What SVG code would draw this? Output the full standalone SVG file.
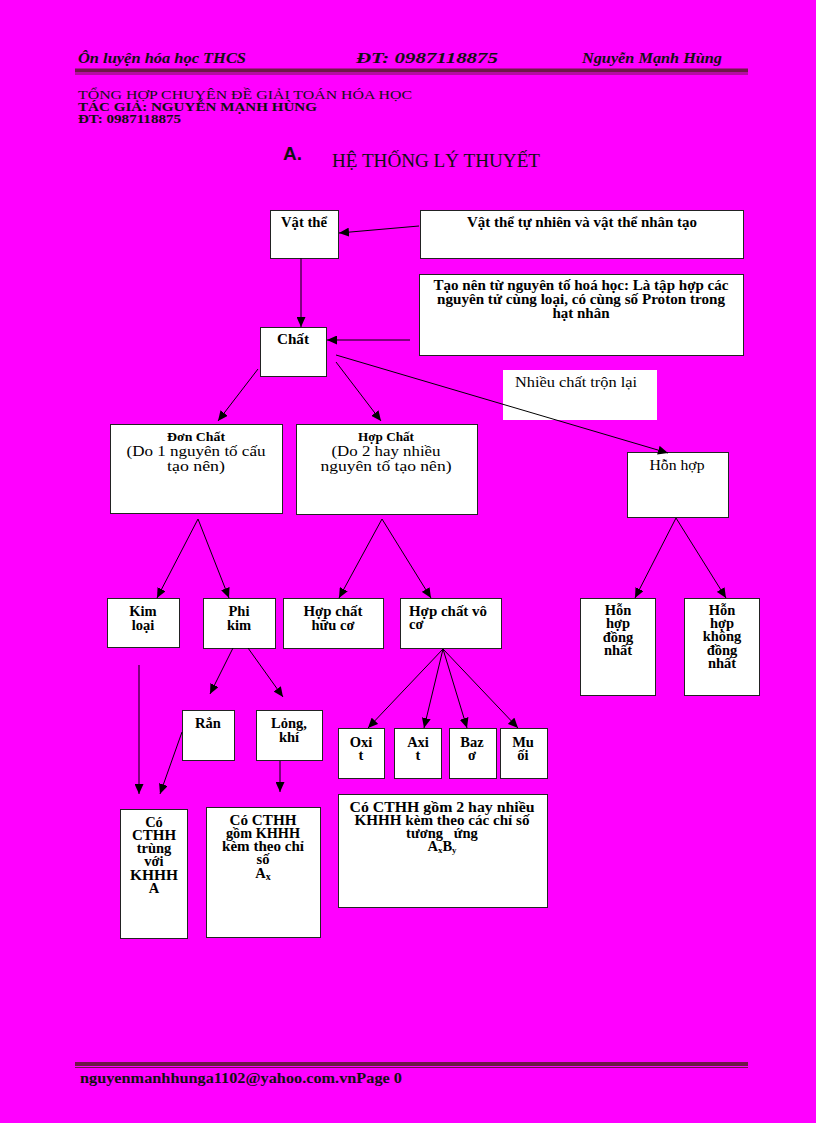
<svg xmlns="http://www.w3.org/2000/svg" width="816" height="1123" viewBox="0 0 816 1123">
<defs>
<marker id="ah" markerUnits="userSpaceOnUse" markerWidth="11" markerHeight="9" refX="10" refY="4.5" orient="auto">
<path d="M0,0 L10,4.5 L0,9 z" fill="#000"/>
</marker>
<style>
.box{fill:#fff;stroke:#222;stroke-width:1}
.nb{fill:#fff;stroke:none}
.t{font-family:"Liberation Serif","Times New Roman",serif;font-weight:bold;font-size:14.5px;fill:#000;text-anchor:middle}
.r{font-family:"Liberation Serif","Times New Roman",serif;font-weight:normal;font-size:14px;fill:#000;text-anchor:middle}
.s{font-size:14px}
.l{text-anchor:start}
.hdr{font-family:"Liberation Serif","Times New Roman",serif;font-style:italic;font-weight:bold;font-size:15px;fill:#111}
.top{font-family:"Liberation Serif","Times New Roman",serif;font-size:12.5px;fill:#111}
.rule{fill:#6e1848}
.conn line{stroke:#000;stroke-width:1;marker-end:url(#ah)}
</style>
</defs>
<rect x="0" y="0" width="816" height="1123" fill="#ff00ff"/>

<g id="header">
<text class="hdr" x="78" y="63" textLength="168" lengthAdjust="spacingAndGlyphs">Ôn luyện hóa học THCS</text>
<text class="hdr" x="356" y="63" textLength="142" lengthAdjust="spacingAndGlyphs">ĐT: 0987118875</text>
<text class="hdr" x="582" y="63" textLength="140" lengthAdjust="spacingAndGlyphs">Nguyễn Mạnh Hùng</text>
<rect class="rule" x="75" y="68.5" width="673" height="4"/>
<rect class="rule" x="75" y="73.5" width="673" height="1"/>
<text class="top" x="78" y="99" textLength="334" lengthAdjust="spacingAndGlyphs">TỔNG HỢP CHUYÊN ĐỀ GIẢI TOÁN HÓA HỌC</text>
<text class="top" x="78" y="111" textLength="239" lengthAdjust="spacingAndGlyphs" style="font-weight:bold">TÁC GIẢ: NGUYỄN MẠNH HÙNG</text>
<text class="top" x="78" y="123" textLength="103" lengthAdjust="spacingAndGlyphs" style="font-weight:bold">ĐT: 0987118875</text>
<text x="283" y="160" font-family="Liberation Sans, Arial, sans-serif" font-weight="bold" font-size="19" fill="#111">A.</text>
<text class="top" x="332" y="167" style="font-size:18px" textLength="208" lengthAdjust="spacingAndGlyphs">HỆ THỐNG LÝ THUYẾT</text>
</g>

<g id="n-vatthe"><rect class="box" x="270.5" y="210.5" width="68" height="48"/><text class="t" x="304" y="227" textLength="46" lengthAdjust="spacingAndGlyphs">Vật thể</text></g>
<g id="n-tunhien"><rect class="box" x="420.5" y="210.5" width="323" height="48"/><text class="t s" x="582" y="227" textLength="230" lengthAdjust="spacingAndGlyphs">Vật thể tự nhiên và vật thể nhân tạo</text></g>
<g id="n-taonen"><rect class="box" x="419.5" y="274.5" width="324" height="81"/>
<text class="t s" x="581" y="290" textLength="295" lengthAdjust="spacingAndGlyphs">Tạo nên từ nguyên tố hoá học: Là tập hợp các</text>
<text class="t s" x="581" y="304" textLength="288" lengthAdjust="spacingAndGlyphs">nguyên tử cùng loại, có cùng số Proton trong</text>
<text class="t s" x="581" y="318" textLength="57" lengthAdjust="spacingAndGlyphs">hạt nhân</text></g>
<g id="n-chat"><rect class="box" x="260.5" y="327.5" width="66" height="49"/><text class="t" x="293" y="344" textLength="32" lengthAdjust="spacingAndGlyphs">Chất</text></g>
<g id="n-nhieuchat"><rect class="nb" x="503" y="370" width="154" height="50"/><text class="r l" x="515" y="387" textLength="122" lengthAdjust="spacingAndGlyphs">Nhiều chất trộn lại</text></g>
<g id="n-donchat"><rect class="box" x="110.5" y="424.5" width="172" height="89"/>
<text class="t" x="196" y="441" style="font-size:12px" textLength="58" lengthAdjust="spacingAndGlyphs">Đơn Chất</text>
<text class="r" x="196" y="456" style="font-size:15px" textLength="139" lengthAdjust="spacingAndGlyphs">(Do 1 nguyên tố cấu</text>
<text class="r" x="196" y="471" style="font-size:15px" textLength="58" lengthAdjust="spacingAndGlyphs">tạo nên)</text></g>
<g id="n-hopchat"><rect class="box" x="296.5" y="424.5" width="181" height="90"/>
<text class="t" x="386" y="441" style="font-size:12px" textLength="56" lengthAdjust="spacingAndGlyphs">Hợp Chất</text>
<text class="r" x="386" y="456" style="font-size:15px" textLength="109" lengthAdjust="spacingAndGlyphs">(Do 2 hay nhiều</text>
<text class="r" x="386" y="471" style="font-size:15px" textLength="131" lengthAdjust="spacingAndGlyphs">nguyên tố tạo nên)</text></g>
<g id="n-honhop"><rect class="box" x="627.5" y="452.5" width="101" height="65"/><text class="r" x="677" y="470" style="font-size:15px" textLength="55" lengthAdjust="spacingAndGlyphs">Hỗn hợp</text></g>

<g id="n-kimloai"><rect class="box" x="107.5" y="598.5" width="72" height="49"/><text class="t" x="143" y="616">Kim</text><text class="t" x="143" y="630">loại</text></g>
<g id="n-phikim"><rect class="box" x="203.5" y="598.5" width="72" height="50"/><text class="t" x="239" y="616">Phi</text><text class="t" x="239" y="630">kim</text></g>
<g id="n-huuco"><rect class="box" x="283.5" y="598.5" width="100" height="50"/><text class="t" x="333" y="616" textLength="59" lengthAdjust="spacingAndGlyphs">Hợp chất</text><text class="t" x="333" y="630">hữu cơ</text></g>
<g id="n-voco"><rect class="box" x="400.5" y="598.5" width="101" height="50"/><text class="t l" x="409" y="616" textLength="78" lengthAdjust="spacingAndGlyphs">Hợp chất vô</text><text class="t l" x="409" y="629">cơ</text></g>
<g id="n-dongnhat"><rect class="box" x="580.5" y="598.5" width="75" height="97"/>
<text class="t" x="618" y="615">Hỗn</text><text class="t" x="618" y="628">hợp</text><text class="t" x="618" y="642">đồng</text><text class="t" x="618" y="655">nhất</text></g>
<g id="n-khongdongnhat"><rect class="box" x="684.5" y="598.5" width="75" height="97"/>
<text class="t" x="722" y="615">Hỗn</text><text class="t" x="722" y="628">hợp</text><text class="t" x="722" y="641">không</text><text class="t" x="722" y="655">đồng</text><text class="t" x="722" y="668">nhất</text></g>

<g id="n-ran"><rect class="box" x="182.5" y="710.5" width="52" height="50"/><text class="t" x="208" y="728">Rắn</text></g>
<g id="n-long"><rect class="box" x="256.5" y="710.5" width="66" height="50"/><text class="t" x="289" y="728">Lỏng,</text><text class="t" x="289" y="742">khí</text></g>
<g id="n-oxit"><rect class="box" x="338.5" y="728.5" width="46" height="50"/><text class="t" x="361" y="747">Oxi</text><text class="t" x="361" y="760">t</text></g>
<g id="n-axit"><rect class="box" x="394.5" y="728.5" width="47" height="50"/><text class="t" x="418" y="747">Axi</text><text class="t" x="418" y="760">t</text></g>
<g id="n-bazo"><rect class="box" x="449.5" y="728.5" width="47" height="50"/><text class="t" x="472" y="747">Baz</text><text class="t" x="472" y="760">ơ</text></g>
<g id="n-muoi"><rect class="box" x="500.5" y="728.5" width="47" height="50"/><text class="t" x="523" y="747">Mu</text><text class="t" x="523" y="760">ối</text></g>

<g id="n-cthh1"><rect class="box" x="120.5" y="809.5" width="67" height="129"/>
<text class="t" x="154" y="827">Có</text><text class="t" x="154" y="840" textLength="44" lengthAdjust="spacingAndGlyphs">CTHH</text><text class="t" x="154" y="853">trùng</text><text class="t" x="154" y="866">với</text><text class="t" x="154" y="880" textLength="48" lengthAdjust="spacingAndGlyphs">KHHH</text><text class="t" x="154" y="893">A</text></g>
<g id="n-cthh2"><rect class="box" x="206.5" y="807.5" width="114" height="130"/>
<text class="t" x="263" y="825" textLength="67" lengthAdjust="spacingAndGlyphs">Có CTHH</text><text class="t" x="263" y="838" textLength="74" lengthAdjust="spacingAndGlyphs">gồm KHHH</text><text class="t" x="263" y="851" textLength="82" lengthAdjust="spacingAndGlyphs">kèm theo chỉ</text><text class="t" x="263" y="864">số</text><text class="t" x="263" y="878">A<tspan font-size="10" dy="2">x</tspan></text></g>
<g id="n-cthh3"><rect class="box" x="338.5" y="794.5" width="209" height="113"/>
<text class="t" x="442" y="812" textLength="185" lengthAdjust="spacingAndGlyphs">Có CTHH gồm 2 hay nhiều</text><text class="t" x="442" y="825" textLength="175" lengthAdjust="spacingAndGlyphs">KHHH kèm theo các chỉ số</text><text class="t" x="442" y="838" xml:space="preserve">tương   ứng</text><text class="t" x="442" y="851">A<tspan font-size="9" dy="2">x</tspan><tspan dy="-2">B</tspan><tspan font-size="9" dy="2">y</tspan></text></g>

<g id="connectors" class="conn">
<line x1="419" y1="226" x2="339" y2="233"/>
<line x1="301" y1="258" x2="301" y2="327"/>
<line x1="410" y1="340" x2="327" y2="340"/>
<line x1="258" y1="369" x2="218" y2="421"/>
<line x1="336" y1="362" x2="381" y2="421"/>
<line x1="336" y1="355" x2="668" y2="453"/>
<line x1="198" y1="519" x2="157" y2="598"/>
<line x1="198" y1="519" x2="229" y2="598"/>
<line x1="382" y1="519" x2="339" y2="598"/>
<line x1="382" y1="519" x2="431" y2="598"/>
<line x1="676" y1="518" x2="635" y2="598"/>
<line x1="676" y1="518" x2="726" y2="598"/>
<line x1="233" y1="648" x2="210" y2="694"/>
<line x1="248" y1="648" x2="283" y2="697"/>
<line x1="443" y1="649" x2="368" y2="728"/>
<line x1="443" y1="649" x2="424" y2="728"/>
<line x1="443" y1="649" x2="467" y2="728"/>
<line x1="443" y1="649" x2="518" y2="728"/>
<line x1="139" y1="665" x2="139" y2="794"/>
<line x1="182" y1="732" x2="160" y2="794"/>
<line x1="280" y1="761" x2="280" y2="792"/>
</g>

<g id="footer">
<rect class="rule" x="75" y="1062" width="673" height="4"/>
<rect class="rule" x="75" y="1067" width="673" height="1"/>
<text x="80" y="1083" font-family="Liberation Serif, Times New Roman, serif" font-weight="bold" font-size="15" fill="#111" textLength="322" lengthAdjust="spacingAndGlyphs">nguyenmanhhunga1102@yahoo.com.vnPage 0</text>
</g>
</svg>
